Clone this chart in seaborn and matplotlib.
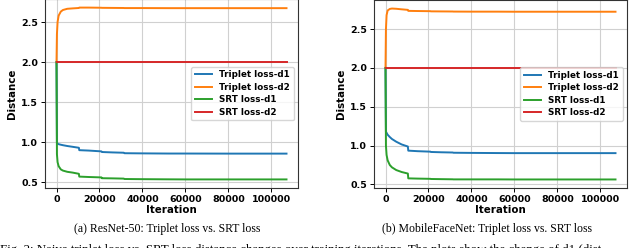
import numpy as np
import pandas as pd
import matplotlib
matplotlib.use("Agg")
import matplotlib.pyplot as plt
import seaborn as sns

# ---- data ----
iterations = [0, 200, 500, 1000, 2000, 3000, 5000, 7500, 10400, 10600, 15000,
              20900, 21100, 26000, 31300, 31600, 40000, 52000, 60000, 80000, 107000]

series_names = ["Triplet loss-d1", "Triplet loss-d2", "SRT loss-d1", "SRT loss-d2"]

# (a) ResNet-50
resnet_triplet_d1 = [2.0, 1.0, 0.98, 0.975, 0.968, 0.962, 0.952, 0.942, 0.93, 0.90, 0.895,
                     0.885, 0.877, 0.872, 0.868, 0.862, 0.86, 0.858, 0.858, 0.857, 0.857]
resnet_triplet_d2 = [2.0, 2.35, 2.5, 2.58, 2.63, 2.65, 2.665, 2.67, 2.675, 2.68, 2.68,
                     2.678, 2.677, 2.676, 2.675, 2.674, 2.674, 2.673, 2.673, 2.673, 2.673]
resnet_srt_d1 = [2.0, 0.85, 0.75, 0.70, 0.66, 0.645, 0.63, 0.62, 0.605, 0.57, 0.565,
                 0.56, 0.55, 0.548, 0.545, 0.54, 0.538, 0.536, 0.535, 0.535, 0.535]
resnet_srt_d2 = [2.0] * len(iterations)

# (b) MobileFaceNet
mfn_triplet_d1 = [2.0, 1.18, 1.165, 1.14, 1.11, 1.085, 1.05, 1.015, 0.988, 0.935, 0.928,
                  0.922, 0.918, 0.914, 0.911, 0.908, 0.906, 0.904, 0.903, 0.903, 0.903]
mfn_triplet_d2 = [2.0, 2.5, 2.68, 2.74, 2.76, 2.765, 2.762, 2.755, 2.748, 2.735, 2.733,
                  2.731, 2.729, 2.728, 2.727, 2.726, 2.725, 2.725, 2.724, 2.724, 2.724]
mfn_srt_d1 = [2.0, 1.0, 0.88, 0.81, 0.75, 0.72, 0.685, 0.66, 0.64, 0.578, 0.575,
              0.572, 0.570, 0.568, 0.566, 0.565, 0.565, 0.565, 0.564, 0.564, 0.564]
mfn_srt_d2 = [2.0] * len(iterations)

captions = ["(a) ResNet-50: Triplet loss vs. SRT loss",
            "(b) MobileFaceNet: Triplet loss vs. SRT loss"]
fig_caption = ("Fig. 2: Naive triplet loss vs. SRT loss distance changes over training "
               "iterations. The plots show the change of d1 (dist")

colors = ["#1f77b4", "#ff7f0e", "#2ca02c", "#d62728"]


def make_df(vals):
    rows = []
    for name, v in zip(series_names, vals):
        for it, d in zip(iterations, v):
            rows.append({"Iteration": it, "Distance": d, "series": name})
    return pd.DataFrame(rows)


panels = [
    make_df([resnet_triplet_d1, resnet_triplet_d2, resnet_srt_d1, resnet_srt_d2]),
    make_df([mfn_triplet_d1, mfn_triplet_d2, mfn_srt_d1, mfn_srt_d2]),
]

W, H = 640, 248
fig = plt.figure(figsize=(W / 100, H / 100), dpi=100)

axes_px = [(45, 298, -1, 188), (374, 627, 0, 188)]  # left, right, top, bottom

for (l, r, t, b), df, cap, cx in zip(axes_px, panels, captions, [167, 487]):
    ax = fig.add_axes([l / W, 1 - b / H, (r - l) / W, (b - t) / H])
    sns.lineplot(data=df, x="Iteration", y="Distance", hue="series",
                 palette=colors, estimator=None, lw=1.4, ax=ax, sort=False)
    ax.grid(True, color="#d0d0d0", lw=0.8)
    ax.set_axisbelow(True)
    ax.set_xticks([0, 20000, 40000, 60000, 80000, 100000])
    ax.set_yticks([0.5, 1.0, 1.5, 2.0, 2.5])
    ax.tick_params(labelsize=6.8, length=3, width=0.7, pad=2)
    for lab in ax.get_xticklabels() + ax.get_yticklabels():
        lab.set_fontweight("bold")
    ax.set_xlabel("Iteration", fontsize=7.4, fontweight="bold", labelpad=1)
    ax.set_ylabel("Distance", fontsize=7.4, fontweight="bold", labelpad=3)
    for s in ax.spines.values():
        s.set_linewidth(0.8)
        s.set_color("#333333")
    leg = ax.legend(loc="center right", prop={"size": 6.3, "weight": "bold"},
                    handlelength=2.0, borderaxespad=0.5, labelspacing=0.4)
    for line in leg.get_lines():
        line.set_linewidth(1.4)
    fig.text(cx / W, 1 - 229 / H, cap, ha="center", va="center",
             family="Liberation Serif", fontsize=8.5)

fig.text(0.0, 1 - 243.5 / H, fig_caption, ha="left", va="top",
         family="Liberation Serif", fontsize=9.3)

fig.savefig("out.png", dpi=100)
